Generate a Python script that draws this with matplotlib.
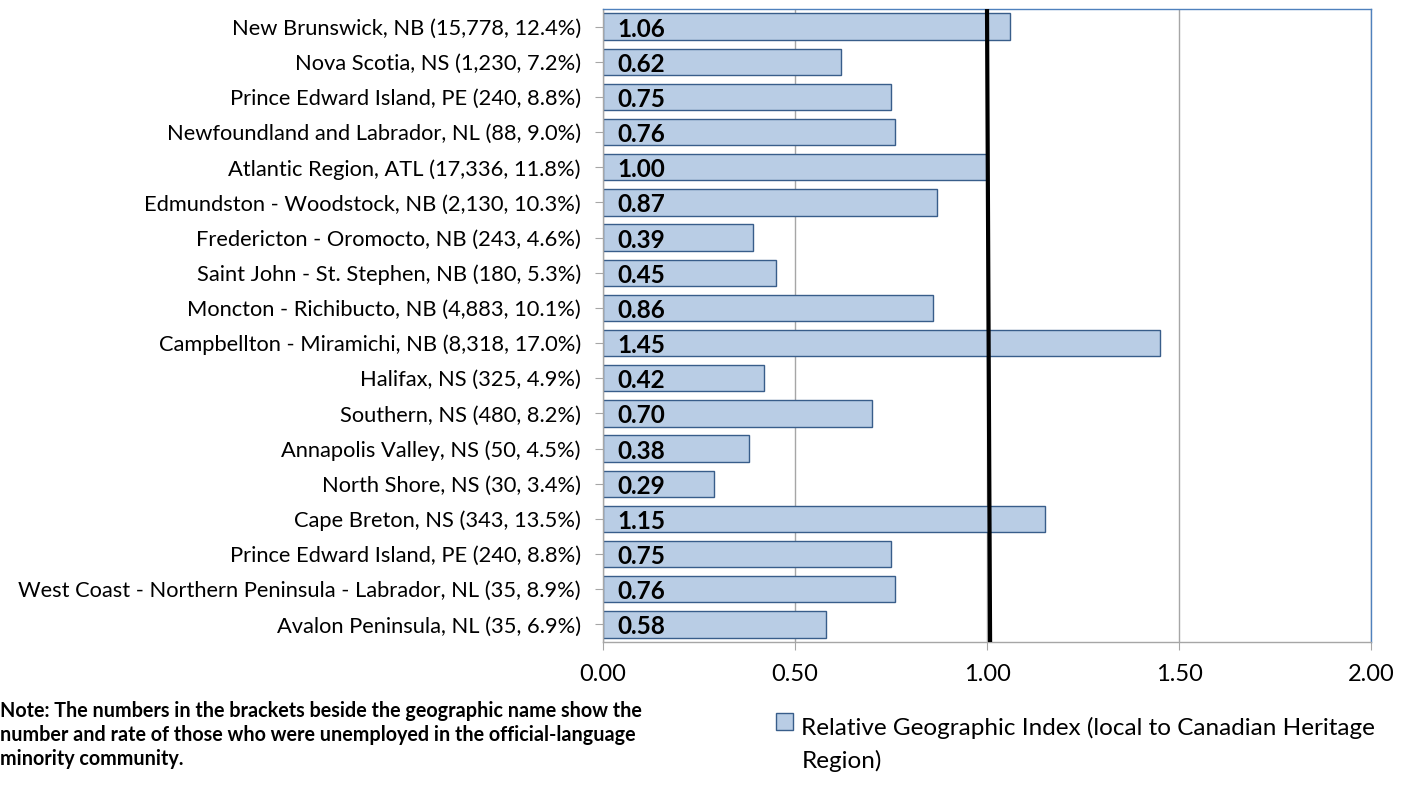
import matplotlib
matplotlib.use("Agg")
import matplotlib.pyplot as plt
from matplotlib.patches import Patch, Rectangle
from matplotlib.legend_handler import HandlerPatch

plt.rcParams['font.family'] = ['Lato', 'DejaVu Sans']

regions = [
    "New Brunswick, NB (15,778, 12.4%)",
    "Nova Scotia, NS (1,230, 7.2%)",
    "Prince Edward Island, PE (240, 8.8%)",
    "Newfoundland and Labrador, NL (88, 9.0%)",
    "Atlantic Region, ATL (17,336, 11.8%)",
    "Edmundston - Woodstock, NB (2,130, 10.3%)",
    "Fredericton - Oromocto, NB (243, 4.6%)",
    "Saint John - St. Stephen, NB (180, 5.3%)",
    "Moncton - Richibucto, NB (4,883, 10.1%)",
    "Campbellton - Miramichi, NB (8,318, 17.0%)",
    "Halifax, NS (325, 4.9%)",
    "Southern, NS (480, 8.2%)",
    "Annapolis Valley, NS (50, 4.5%)",
    "North Shore, NS (30, 3.4%)",
    "Cape Breton, NS (343, 13.5%)",
    "Prince Edward Island, PE (240, 8.8%)",
    "West Coast - Northern Peninsula - Labrador, NL (35, 8.9%)",
    "Avalon Peninsula, NL (35, 6.9%)",
]
index_values = [1.06, 0.62, 0.75, 0.76, 1.00, 0.87, 0.39, 0.45, 0.86,
                1.45, 0.42, 0.70, 0.38, 0.29, 1.15, 0.75, 0.76, 0.58]
x_ticks = [0.0, 0.5, 1.0, 1.5, 2.0]

fig = plt.figure(figsize=(14.03, 7.86), dpi=100)
ax = fig.add_axes([0.4298, 0.1832, 0.5474, 0.8053])

ypos = list(range(len(regions)))
ax.barh(ypos, index_values, height=0.75, color='#B9CDE5',
        edgecolor='#385D8A', linewidth=1.0, zorder=2)
for y, v in zip(ypos, index_values):
    ax.text(0.037, y + 0.07, f"{v:.2f}", va='center', ha='left',
            fontsize=17.5, fontweight='bold', color='black', zorder=3)

# reference line at an index of 1
ax.plot([1.0, 1.008], [-0.5, len(regions) - 0.5], color='black',
        linewidth=3, zorder=4, solid_capstyle='butt')

ax.set_xlim(0, 2.0)
ax.set_ylim(len(regions) - 0.5, -0.5)
ax.set_xticks(x_ticks)
ax.set_xticklabels([f"{t:.2f}" for t in x_ticks], fontsize=17)
ax.set_yticks(ypos)
ax.set_yticklabels(regions, fontsize=15.75)
ax.grid(axis='x', color='#A6A6A6', linewidth=1.0, zorder=0)
ax.set_axisbelow(True)

for side in ('top', 'right'):
    ax.spines[side].set_color('#4F81BD')
    ax.spines[side].set_linewidth(1.0)
for side in ('left', 'bottom'):
    ax.spines[side].set_color('#A6A6A6')
    ax.spines[side].set_linewidth(1.0)
ax.tick_params(axis='y', length=6, color='#A6A6A6', pad=10)
ax.tick_params(axis='x', length=6, color='#A6A6A6', pad=10)

fig.text(0.0, 0.108, "Note: The numbers in the brackets beside the geographic name show the\n"
         "number and rate of those who were unemployed in the official-language\n"
         "minority community.", fontsize=14.2, fontweight='bold',
         va='top', ha='left', linespacing=1.25)


# legend swatch sits beside the first line of a wrapped label
def top_swatch(legend, orig_handle, xdescent, ydescent, width, height, fontsize):
    return Rectangle((-xdescent, -ydescent + 0.95 * fontsize), width, height)


handle = Patch(facecolor='#B9CDE5', edgecolor='#385D8A', linewidth=1.0)
leg = fig.legend([handle], ["Relative Geographic Index (local to Canadian Heritage\nRegion)"],
                 loc='upper left', bbox_to_anchor=(0.553, 0.088), frameon=False,
                 fontsize=17.5, handlelength=0.7, handleheight=0.7, handletextpad=0.35,
                 borderpad=0, borderaxespad=0, labelspacing=0,
                 handler_map={Patch: HandlerPatch(patch_func=top_swatch)})
leg.get_texts()[0].set_linespacing(1.6)

fig.savefig("out.png", dpi=100)
